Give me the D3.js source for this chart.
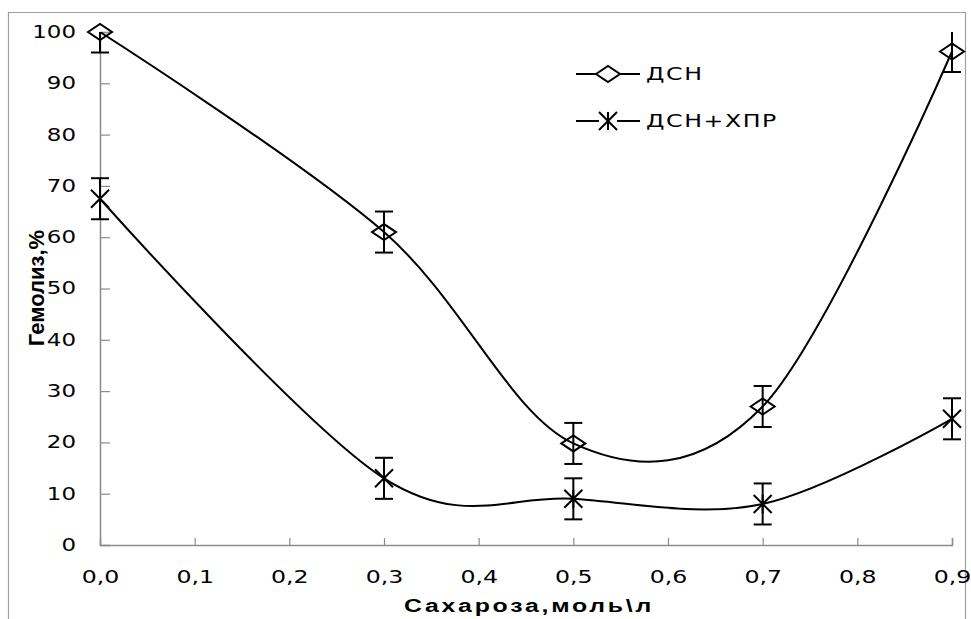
<!DOCTYPE html>
<html><head><meta charset="utf-8">
<script src="https://cdn.jsdelivr.net/npm/d3@7"></script>
<style>
html,body{margin:0;padding:0;background:#fff;}
svg{display:block;}
</style></head>
<body>
<svg id="chart" width="971" height="619"></svg>
<script>
// ---- data ----
const sucrose = [0.0, 0.3, 0.5, 0.7, 0.9];
const dsn = [100, 61, 19.8, 27, 96.2];
const dsnXpr = [67.5, 13, 9, 8, 24.6];
const dsnErr = [4, 4, 4, 4, 4];
const dsnXprErr = [4, 4, 4, 4, 4];
const xTicks = [0, 0.1, 0.2, 0.3, 0.4, 0.5, 0.6, 0.7, 0.8, 0.9];
const yTicks = [0, 10, 20, 30, 40, 50, 60, 70, 80, 90, 100];
const seriesNames = ["ДСН", "ДСН+ХПР"];
const xTitle = "Сахароза,моль\\л";
const yTitle = "Гемолиз,%";

const svg = d3.select("#chart");
const x = d3.scaleLinear().domain([0, 0.9]).range([100, 952]);
const y = d3.scaleLinear().domain([0, 100]).range([545, 32]);
const axisColor = "#8c8c8c";
const sx = 1.35;

// outer frame
svg.append("path")
  .attr("d", "M8.5,640 L8.5,12.5 L965.5,12.5 L965.5,640")
  .attr("fill", "none").attr("stroke", "#a0a0a0").attr("stroke-width", 1.2);

// y axis
const yAxis = svg.append("g").attr("transform", "translate(100,0)")
  .call(d3.axisLeft(y).tickValues(yTicks).tickSize(-10).tickPadding(0).tickFormat(d3.format("d")));
yAxis.select(".domain").attr("stroke", axisColor).attr("stroke-width", 1.5);
yAxis.selectAll(".tick line").attr("stroke", axisColor).attr("stroke-width", 1.2);
yAxis.selectAll(".tick text")
  .attr("x", -24 / sx)
  .attr("transform", `scale(${sx},1)`)
  .attr("fill", "#000")
  .style("font-family", "'DejaVu Sans', sans-serif").style("font-size", "17px");
yAxis.selectAll(".tick").filter(d => d === 0).select("line").remove();

// x axis
const xAxis = svg.append("g").attr("transform", "translate(0,545)")
  .call(d3.axisBottom(x).tickValues(xTicks).tickSize(-7).tickPadding(26)
    .tickFormat(d => d.toFixed(1).replace(".", ",")));
xAxis.select(".domain").attr("stroke", axisColor).attr("stroke-width", 1.5);
xAxis.selectAll(".tick line").attr("stroke", axisColor).attr("stroke-width", 1.2);
xAxis.selectAll(".tick").filter(d => d === 0).select("line").remove();
xAxis.selectAll(".tick text")
  .attr("transform", `scale(${sx},1)`)
  .attr("fill", "#000")
  .style("font-family", "'DejaVu Sans', sans-serif").style("font-size", "17.5px");

// titles
svg.append("text")
  .attr("transform", "translate(44,288) rotate(-90)")
  .attr("text-anchor", "middle")
  .style("font-family", "'Liberation Sans Narrow', 'Arial Narrow', 'Liberation Sans', sans-serif")
  .style("font-weight", "bold").style("font-size", "22px")
  .text(yTitle);
svg.append("text")
  .attr("x", 404).attr("y", 612)
  .attr("textLength", 250).attr("lengthAdjust", "spacingAndGlyphs")
  .style("font-family", "'Liberation Sans', sans-serif")
  .style("font-weight", "bold").style("font-size", "18px")
  .style("letter-spacing", "2px")
  .text(xTitle);

// clip for plot area
svg.append("clipPath").attr("id", "plotClip")
  .append("rect").attr("x", 90).attr("y", y(100)).attr("width", 880).attr("height", y(0) - y(100));

const line = d3.line().x(d => x(d[0])).y(d => y(d[1])).curve(d3.curveCardinal.tension(0));
const plot = svg.append("g").attr("clip-path", "url(#plotClip)");

function drawSeries(vals, errs) {
  const pts = sucrose.map((s, i) => [s, vals[i]]);
  plot.append("path").attr("d", line(pts)).attr("fill", "none")
    .attr("stroke", "#000").attr("stroke-width", 2);
  const eb = plot.append("g").attr("stroke", "#000").attr("stroke-width", 2);
  sucrose.forEach((s, i) => {
    const lo = vals[i] - errs[i], hi = vals[i] + errs[i];
    eb.append("line").attr("x1", x(s)).attr("x2", x(s)).attr("y1", y(lo)).attr("y2", y(Math.min(hi, 100)));
    eb.append("line").attr("x1", x(s) - 9).attr("x2", x(s) + 9).attr("y1", y(lo)).attr("y2", y(lo));
    if (hi <= 100) eb.append("line").attr("x1", x(s) - 9).attr("x2", x(s) + 9).attr("y1", y(hi)).attr("y2", y(hi));
  });
  return pts;
}

function diamond(g, cx, cy) {
  g.append("path").attr("d", `M${cx - 12},${cy} L${cx},${cy - 8} L${cx + 12},${cy} L${cx},${cy + 8} Z`)
    .attr("fill", "none").attr("stroke", "#000").attr("stroke-width", 2);
}
function asterisk(g, cx, cy) {
  g.append("path").attr("d",
    `M${cx - 9},${cy - 9} L${cx + 9},${cy + 9} M${cx - 9},${cy + 9} L${cx + 9},${cy - 9} M${cx},${cy - 9} L${cx},${cy + 9}`)
    .attr("fill", "none").attr("stroke", "#000").attr("stroke-width", 2);
}

const p1 = drawSeries(dsn, dsnErr);
const p2 = drawSeries(dsnXpr, dsnXprErr);
const markers = svg.append("g");
p1.forEach(p => diamond(markers, x(p[0]), y(p[1])));
p2.forEach(p => asterisk(markers, x(p[0]), y(p[1])));

// legend
const legY = [74, 121];
const leg = svg.append("g");
legY.forEach((ly, i) => {
  leg.append("line").attr("x1", 576).attr("x2", 640).attr("y1", ly).attr("y2", ly)
    .attr("stroke", "#000").attr("stroke-width", 2);
  if (i === 0) {
    leg.append("path").attr("d", `M596,${ly} L608,${ly - 8} L620,${ly} L608,${ly + 8} Z`)
      .attr("fill", "#fff").attr("stroke", "#000").attr("stroke-width", 2);
  } else {
    leg.append("rect").attr("x", 599).attr("y", ly - 9).attr("width", 18).attr("height", 18).attr("fill", "#fff");
    asterisk(leg, 608, ly);
  }
  leg.append("text").attr("x", 646 / sx).attr("y", ly).attr("dy", "0.36em")
    .attr("transform", `scale(${sx},1)`)
    .style("letter-spacing", "1.2px")
    .style("font-family", "'DejaVu Sans', sans-serif").style("font-size", "17.5px")
    .text(seriesNames[i]);
});
</script>
</body></html>
